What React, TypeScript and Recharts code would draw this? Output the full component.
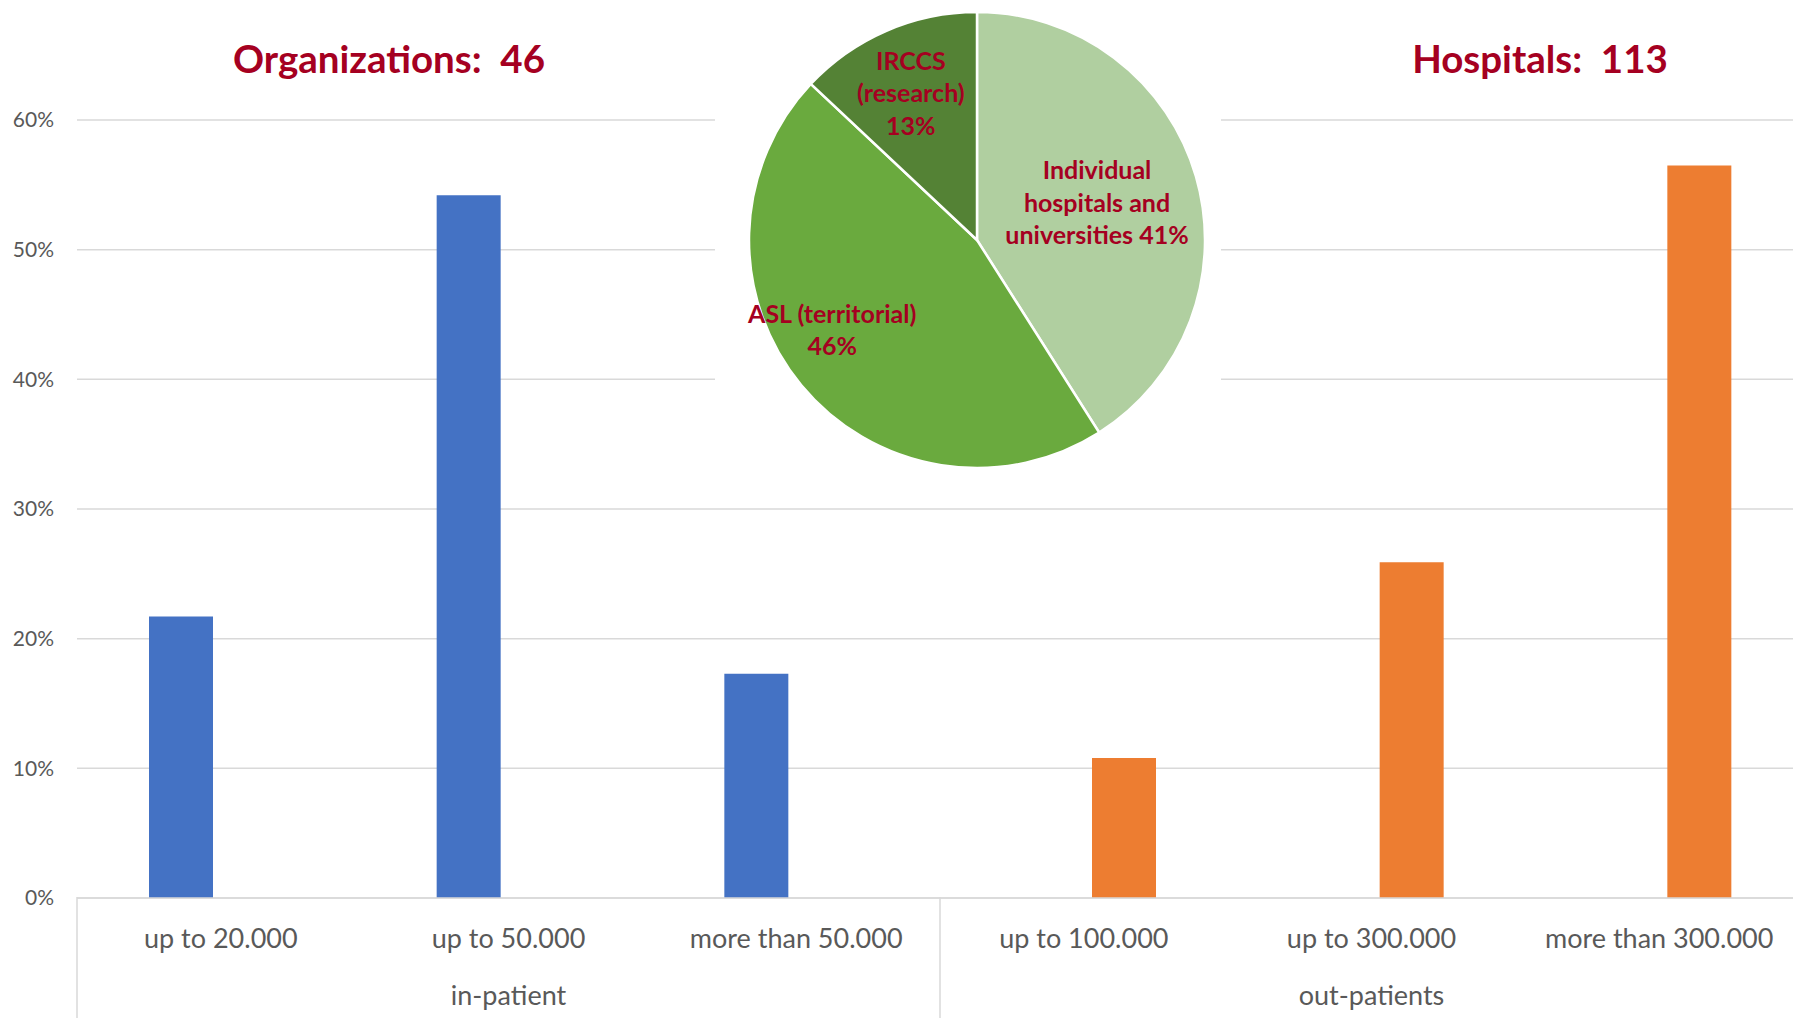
import React from "react"
import { Bar, BarChart, CartesianGrid, Cell, Pie, PieChart, XAxis, YAxis } from "recharts"

const categories = ["up to 20.000", "up to 50.000", "more than 50.000", "up to 100.000", "up to 300.000", "more than 300.000"]
const inPatient = [21.7, 54.2, 17.3, null, null, null]
const outPatients = [null, null, null, 10.8, 25.9, 56.5]
const groupNames = ["in-patient", "out-patients"]
const yTicks = [0, 10, 20, 30, 40, 50, 60]

const pieNames = ["Individual hospitals and universities", "ASL (territorial)", "IRCCS (research)"]
const pieValues = [41, 46, 13]
const pieLabelLines = [
  ["Individual", "hospitals and", "universities 41%"],
  ["ASL (territorial)", "46%"],
  ["IRCCS", "(research)", "13%"],
]
const pieColors = ["#B0CFA0", "#6AAA3E", "#548235"]

const titleLeft = "Organizations:  46"
const titleRight = "Hospitals:  113"

const data = categories.map((name, i) => ({ name, inPatient: inPatient[i], outPatients: outPatients[i] }))
const pieData = pieNames.map((name, i) => ({ name, value: pieValues[i] }))

const FONT = "Lato, 'Open Sans', sans-serif"
const RED = "#A50021"
const CHART_W = 1803
const CHART_H = 1018
const PLOT_LEFT = 77
const BAND = (CHART_W - PLOT_LEFT) / categories.length

// label placement inside the pie: radius and small angle nudge per slice
const labelRadius = [126, 170, 162]
const labelNudge = [1.5, -8, 0.7]

function CategoryTick(props: any) {
  const { x, y, payload, index } = props
  const left = x - BAND / 2
  return (
    <g>
      <text x={x} y={y + 31} textAnchor="middle" dominantBaseline="central" fill="#595959" fontSize={27} fontFamily={FONT}>
        {payload.value}
      </text>
      {index % 3 === 1 && (
        <text x={x} y={y + 88} textAnchor="middle" dominantBaseline="central" fill="#595959" fontSize={27} fontFamily={FONT}>
          {groupNames[Math.floor(index / 3)]}
        </text>
      )}
      {index % 3 === 0 && <line x1={left} x2={left} y1={y - 9} y2={y + 130} stroke="#d9d9d9" strokeWidth={1.5} />}
    </g>
  )
}

function PieLabel(props: any) {
  const { cx, cy, midAngle, index } = props
  const a = ((midAngle + labelNudge[index]) * Math.PI) / 180
  const r = labelRadius[index]
  const x = cx + r * Math.cos(a)
  const y = cy - r * Math.sin(a)
  const lines = pieLabelLines[index]
  const lh = 32.5
  const y0 = y - ((lines.length - 1) * lh) / 2
  return (
    <text x={x} textAnchor="middle" fill={RED} fontSize={25} fontWeight="bold" fontFamily={FONT}>
      {lines.map((t, i) => (
        <tspan key={i} x={x} y={y0 + i * lh} dominantBaseline="central">
          {t}
        </tspan>
      ))}
    </text>
  )
}

export default function App() {
  return (
    <div style={{ position: "absolute", left: 0, top: 0, width: 1793, height: 1018, overflow: "hidden", background: "#fff" }}>
      <BarChart width={CHART_W} height={CHART_H} data={data} margin={{ top: 120, right: 0, bottom: 0, left: 0 }} barSize={64} barGap={16}>
        <CartesianGrid vertical={false} stroke="#d9d9d9" strokeWidth={1.5} />
        <XAxis dataKey="name" height={120} axisLine={{ stroke: "#d9d9d9", strokeWidth: 1.5 }} tickLine={false} tick={<CategoryTick />} interval={0} />
        <YAxis
          width={PLOT_LEFT}
          domain={[0, 60]}
          ticks={yTicks}
          axisLine={false}
          tickLine={false}
          tickSize={0}
          tickMargin={23}
          tick={{ fill: "#595959", fontSize: 21, fontFamily: FONT }}
          tickFormatter={(v) => `${v}%`}
        />
        <Bar dataKey="inPatient" fill="#4472C4" isAnimationActive={false} />
        <Bar dataKey="outPatients" fill="#ED7D31" isAnimationActive={false} />
      </BarChart>

      <div style={{ position: "absolute", left: 139, top: 34, width: 500, textAlign: "center", color: RED, fontFamily: FONT, fontWeight: "bold", fontSize: 38.5, whiteSpace: "pre", lineHeight: "48px" }}>
        {titleLeft}
      </div>
      <div style={{ position: "absolute", left: 1290, top: 34, width: 500, textAlign: "center", color: RED, fontFamily: FONT, fontWeight: "bold", fontSize: 38.5, whiteSpace: "pre", lineHeight: "48px" }}>
        {titleRight}
      </div>

      <div style={{ position: "absolute", left: 715, top: 0, width: 506, height: 480, background: "#fff" }}>
        <PieChart width={506} height={480} margin={{ top: 0, right: 0, bottom: 0, left: 0 }}>
          <Pie
            data={pieData}
            dataKey="value"
            cx={262}
            cy={240}
            outerRadius={228}
            startAngle={90}
            endAngle={-270}
            stroke="#fff"
            strokeWidth={2.5}
            label={<PieLabel />}
            labelLine={false}
            isAnimationActive={false}
          >
            {pieData.map((d, i) => (
              <Cell key={d.name} fill={pieColors[i]} />
            ))}
          </Pie>
        </PieChart>
      </div>
    </div>
  )
}
